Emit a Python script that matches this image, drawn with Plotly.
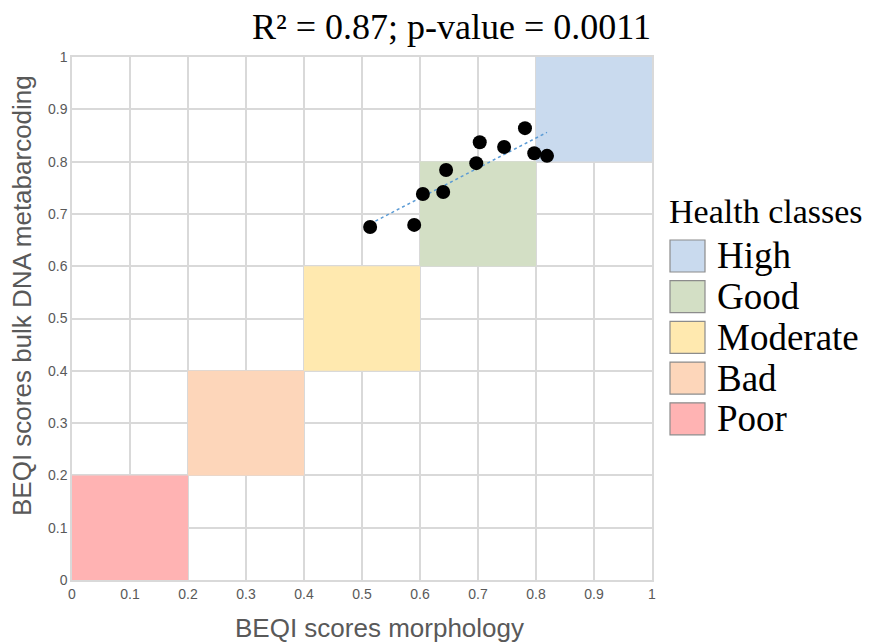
import numpy as np
import plotly.graph_objects as go

# ---- data ----
morphology = [0.514, 0.590, 0.605, 0.640, 0.645, 0.697, 0.703, 0.745, 0.781, 0.797, 0.819]
metabarcoding = [0.675, 0.679, 0.738, 0.742, 0.784, 0.797, 0.837, 0.828, 0.864, 0.816, 0.811]

class_names = ["High", "Good", "Moderate", "Bad", "Poor"]
class_low = [0.8, 0.6, 0.4, 0.2, 0.0]
class_high = [1.0, 0.8, 0.6, 0.4, 0.2]
class_colors = ["#C9DAEE", "#D3DFC5", "#FFE9AF", "#FDD6BA", "#FFB3B3"]

title_text = "R² = 0.87; p-value = 0.0011"
x_title = "BEQI scores morphology"
y_title = "BEQI scores bulk DNA metabarcoding"
legend_title = "Health classes"

# ---- layout geometry (page pixels; page body has an 8px offset) ----
OFF = 8
W, H = 882, 642
PX0, PX1 = 72, 652      # plot area left/right on the page
PY0, PY1 = 57, 580      # plot area top/bottom on the page
L = PX0 - OFF
T = PY0 - OFF
PW, PH = PX1 - PX0, PY1 - PY0
R = W - L - PW
B = H - T - PH

def px_x(p):
    return (p - PX0) / PW

def px_y(p):
    return (PY1 - p) / PH

SERIF = "Liberation Serif"
SANS = "Liberation Sans"
GRAY = "#595959"

fig = go.Figure()

# trend line (least squares fit)
slope, intercept = np.polyfit(morphology, metabarcoding, 1)
xs = np.array([min(morphology), max(morphology)])
fig.add_trace(go.Scatter(x=xs, y=slope * xs + intercept, mode="lines",
                         line=dict(color="#5B9BD5", width=1.5, dash="dot"),
                         showlegend=False, hoverinfo="skip"))

fig.add_trace(go.Scatter(x=morphology, y=metabarcoding, mode="markers",
                         marker=dict(color="black", size=14),
                         showlegend=False))

shapes = []
annotations = []
for name, lo, hi, col in zip(class_names, class_low, class_high, class_colors):
    shapes.append(dict(type="rect", xref="x", yref="y", x0=lo, x1=hi, y0=lo, y1=hi,
                       fillcolor=col, line=dict(width=0), layer="between"))

# manual legend
box_x0, box_x1 = 670, 705
top0 = 240
step = 40.7
box_h = 32
for i, (name, col) in enumerate(zip(class_names, class_colors)):
    y0 = top0 + i * step
    shapes.append(dict(type="rect", xref="paper", yref="paper",
                       x0=px_x(box_x0), x1=px_x(box_x1),
                       y0=px_y(y0 + box_h), y1=px_y(y0),
                       fillcolor=col, line=dict(color="#8C8C8C", width=1.2)))
    annotations.append(dict(xref="paper", yref="paper", x=px_x(715), y=px_y(y0 + box_h / 2),
                            xanchor="left", yanchor="middle", text=name, showarrow=False,
                            font=dict(family=SERIF, size=37, color="black")))

annotations.append(dict(xref="paper", yref="paper", x=px_x(667), y=px_y(211),
                        xanchor="left", yanchor="middle", text=legend_title, showarrow=False,
                        font=dict(family=SERIF, size=34, color="black")))

annotations.append(dict(xref="paper", yref="paper", x=px_x(653), y=px_y(27),
                        xanchor="right", yanchor="middle", text=title_text, showarrow=False,
                        font=dict(family=SERIF, size=36, color="black")))

# axis titles
annotations.append(dict(xref="paper", yref="paper", x=px_x(379), y=px_y(628),
                        xanchor="center", yanchor="middle", text=x_title, showarrow=False,
                        font=dict(family=SANS, size=26, color=GRAY)))
annotations.append(dict(xref="paper", yref="paper", x=px_x(22), y=px_y(296),
                        xanchor="center", yanchor="middle", text=y_title, showarrow=False,
                        textangle=-90,
                        font=dict(family=SANS, size=26, color=GRAY)))

axis_common = dict(range=[0, 1], dtick=0.1, tick0=0, showgrid=True, gridcolor="#D9D9D9",
                   gridwidth=1.5, zeroline=False, showline=True, linecolor="#D9D9D9",
                   linewidth=1.5, mirror=True, ticks="",
                   tickfont=dict(family=SANS, size=14, color=GRAY))

fig.update_layout(
    width=W, height=H,
    margin=dict(l=L, r=R, t=T, b=B),
    paper_bgcolor="white", plot_bgcolor="white",
    showlegend=False,
    shapes=shapes, annotations=annotations,
    xaxis=dict(**axis_common),
    yaxis=dict(**axis_common),
)

fig.write_html("out.html")
